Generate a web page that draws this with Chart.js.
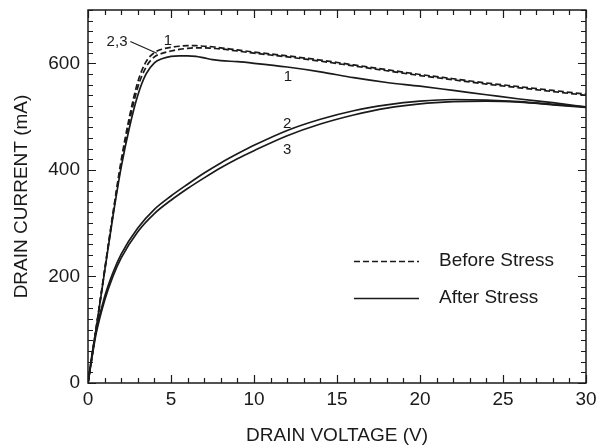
<!DOCTYPE html>
<html>
<head>
<meta charset="utf-8">
<script src="https://cdn.jsdelivr.net/npm/chart.js@4/dist/chart.umd.min.js"></script>
<style>
html,body{margin:0;padding:0;background:#fff;}
#wrap{width:598px;height:447px;position:relative;}
</style>
</head>
<body>
<div id="wrap"><canvas id="c"></canvas></div>
<script>
// ---- data ----
const vSteep = [0,0.5,1,1.5,2,2.5,3,3.5,4,4.5,5,5.5,6,6.5,7,7.5,8,9,10,12,14,16,18,20,22,24,26,28,30];
const before1 = [0,105,212,318,418,500,565,603,620,627,630,632,633,633,632,631,629,625,621,614,606,597,588,579,571,563,556,549,542];
const before23 = [0,104,210,315,412,492,555,593,612,619,623,626,628,629,629,628,627,623,619,612,604,595,586,577,569,561,554,547,540];
const after1 = [0,104,209,312,405,480,540,580,601,609,613,614,614,613,610,607,605,603,600,593,584,573,564,557,549,541,533,526,518];
const vSlow = [0,0.25,0.5,1,1.5,2,3,4,5,6,7,8,9,10,12,14,16,18,20,22,24,26,28,30];
const after2 = [0,55,100,162,207,242,291,326,351,373,394,413,430,446,474,495,511,522,529,532,531,528,523,518];
const after3 = [0,50,94,155,200,235,284,318,343,365,385,404,421,436,464,486,503,516,524,528,529,527,522,517];

const xTicks = [0,5,10,15,20,25,30];
const yTicks = [0,200,400,600];
const xMinorStep = 1;
const yMinorStep = 20;
const legendLabels = ['Before Stress','After Stress'];
const curveLabels = [
  {text:'2,3', x:1.75, y:641},
  {text:'1', x:4.82, y:643},
  {text:'1', x:12.05, y:574},
  {text:'2', x:12.0, y:486},
  {text:'3', x:12.0, y:437}
];
const leader = [{x:2.55, y:641},{x:4.15, y:619}];

const toXY = (xs, ys) => xs.map((v,i)=>({x:v, y:ys[i]}));
const INK = '#1a1a1a';
const FONT = 'Liberation Sans, Arial, Helvetica, sans-serif';

const dashed = {borderDash:[6,3], borderWidth:1.7};
const solid = {borderDash:[], borderWidth:1.7};

const datasets = [
  Object.assign({label:'Before 1', data:toXY(vSteep,before1)}, dashed),
  Object.assign({label:'Before 2,3', data:toXY(vSteep,before23)}, dashed),
  Object.assign({label:'After 1', data:toXY(vSteep,after1)}, solid),
  Object.assign({label:'After 2', data:toXY(vSlow,after2)}, solid),
  Object.assign({label:'After 3', data:toXY(vSlow,after3)}, solid)
].map(d => Object.assign(d, {borderColor:INK, pointRadius:0, fill:false, cubicInterpolationMode:'monotone'}));

const framePlugin = {
  id:'frame',
  afterDraw(chart){
    const {ctx, chartArea:a, scales:{x, y}} = chart;
    ctx.save();
    ctx.strokeStyle = INK;
    ctx.lineWidth = 1.5;
    ctx.strokeRect(a.left, a.top, a.right-a.left, a.bottom-a.top);
    ctx.lineWidth = 1.2;
    ctx.beginPath();
    for (let v = x.min; v <= x.max + 1e-9; v += xMinorStep) {
      const px = Math.round(x.getPixelForValue(v)) + 0.5;
      const len = xTicks.includes(v) ? 8 : 5;
      ctx.moveTo(px, a.bottom); ctx.lineTo(px, a.bottom - len);
      ctx.moveTo(px, a.top); ctx.lineTo(px, a.top + len);
    }
    for (let v = y.min; v <= y.max + 1e-9; v += yMinorStep) {
      const py = Math.round(y.getPixelForValue(v)) + 0.5;
      const len = yTicks.includes(v) ? 8 : 5;
      ctx.moveTo(a.left, py); ctx.lineTo(a.left + len, py);
      ctx.moveTo(a.right, py); ctx.lineTo(a.right - len, py);
    }
    ctx.stroke();

    // curve labels
    ctx.fillStyle = INK;
    ctx.font = '15px ' + FONT;
    ctx.textAlign = 'center';
    ctx.textBaseline = 'middle';
    curveLabels.forEach(l => ctx.fillText(l.text, x.getPixelForValue(l.x), y.getPixelForValue(l.y)));
    ctx.lineWidth = 1.1;
    ctx.beginPath();
    ctx.moveTo(x.getPixelForValue(leader[0].x), y.getPixelForValue(leader[0].y));
    ctx.lineTo(x.getPixelForValue(leader[1].x), y.getPixelForValue(leader[1].y));
    ctx.stroke();

    // legend
    const lx0 = 354, lx1 = 419, tx = 439;
    const rows = [261, 298];
    ctx.font = '19px ' + FONT;
    ctx.textAlign = 'left';
    rows.forEach((ry, i) => {
      ctx.lineWidth = 1.3;
      ctx.setLineDash(i === 0 ? [6,3] : []);
      ctx.beginPath();
      ctx.moveTo(lx0, ry + 0.5); ctx.lineTo(lx1, ry + 0.5);
      ctx.stroke();
      ctx.setLineDash([]);
      ctx.fillText(legendLabels[i], tx, ry);
    });
    ctx.restore();
  }
};

new Chart(document.getElementById('c'), {
  type:'line',
  data:{datasets},
  plugins:[framePlugin],
  options:{
    responsive:true,
    maintainAspectRatio:false,
    animation:false,
    layout:{padding:{left:0, right:12, top:10, bottom:0}},
    plugins:{legend:{display:false}, tooltip:{enabled:false}},
    scales:{
      x:{
        type:'linear', min:0, max:30,
        afterBuildTicks: s => { s.ticks = xTicks.map(v => ({value:v})); },
        afterFit: s => { s.height = 64; s.paddingLeft = 0; s.paddingRight = 0; },
        grid:{display:false, drawTicks:false},
        border:{display:false},
        ticks:{color:INK, font:{family:FONT, size:19}, padding:5, maxRotation:0, autoSkip:false},
        title:{display:true, text:'DRAIN VOLTAGE (V)', color:INK, font:{family:FONT, size:19, lineHeight:1.2}, padding:{top:0, bottom:0}}
      },
      y:{
        type:'linear', min:0, max:700,
        afterBuildTicks: s => { s.ticks = yTicks.map(v => ({value:v})); },
        afterFit: s => { s.width = 88; s.paddingTop = 0; s.paddingBottom = 0; },
        grid:{display:false, drawTicks:false},
        border:{display:false},
        ticks:{color:INK, font:{family:FONT, size:19}, padding:8},
        title:{display:true, text:'DRAIN CURRENT (mA)', color:INK, font:{family:FONT, size:19, lineHeight:1.2}, padding:{top:10, bottom:0}}
      }
    }
  }
});
</script>
</body>
</html>
